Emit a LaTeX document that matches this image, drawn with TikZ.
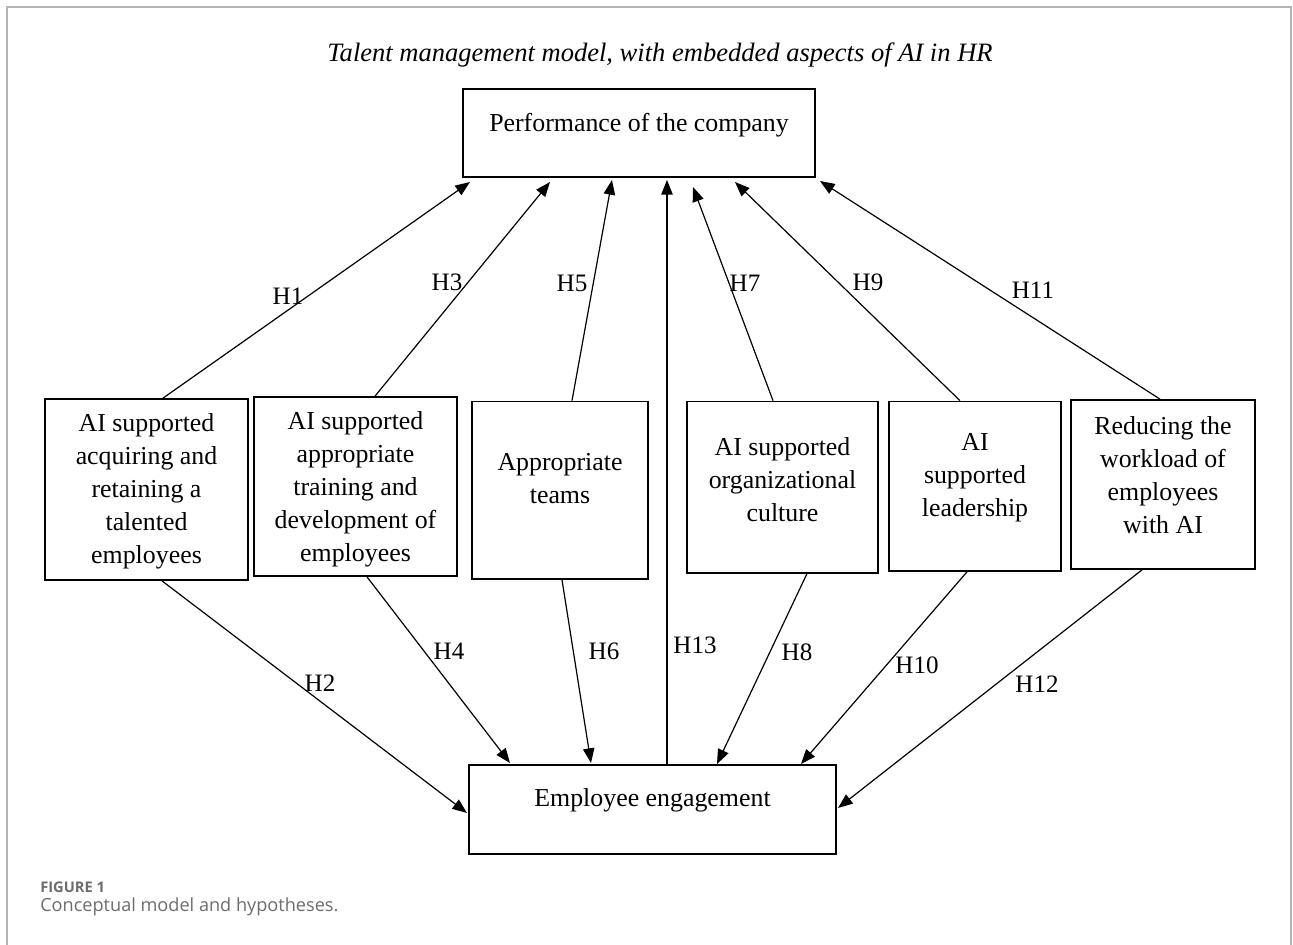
\documentclass[tikz,border=0pt]{standalone}
\usepackage{fontspec}
\setmainfont{Liberation Serif}
\newfontfamily\capfont{Open Sans}
\usetikzlibrary{arrows.meta,calc}
\definecolor{capgray}{RGB}{108,108,108}
\definecolor{framegray}{RGB}{180,180,180}
\begin{document}
\begin{tikzpicture}[x=0.75pt,y=-0.75pt,
  box/.style={draw=black,line width=1.3pt,inner sep=0pt,rectangle},
  txt/.style={align=center,font=\fontsize{19.4}{24.8}\selectfont,inner sep=0pt},
  hyp/.style={font=\fontsize{18.8}{22}\selectfont,inner sep=0pt},
  link/.style={line width=0.9pt,-{Triangle[length=11pt,width=8.5pt]}},
]
\useasboundingbox (0,0) rectangle (1293,945);
% frame
\draw[framegray,line width=1.2pt] (7,945) -- (7,7) -- (1291,7) -- (1291,945);
% title
\node[font=\fontsize{19.9}{24}\selectfont\itshape,inner sep=0pt] (title) at (660,55) {Talent management model, with embedded aspects of AI in HR};
% boxes
\node[box,minimum width=264pt,minimum height=66pt] (top) at (639,133) {};
\node[box,minimum width=152.25pt,minimum height=135.75pt] (b1) at (146.5,489.5) {};
\node[box,minimum width=152.25pt,minimum height=134.25pt] (b2) at (355.5,486.5) {};
\node[box,minimum width=132pt,minimum height=133.1pt] (b3) at (560,490.25) {};
\node[box,minimum width=143.25pt,minimum height=128.4pt] (b4) at (782.5,487.1) {};
\node[box,minimum width=129pt,minimum height=127.1pt] (b5) at (975,486.25) {};
\node[box,minimum width=138pt,minimum height=126.75pt] (b6) at (1163,484.5) {};
\node[box,minimum width=275.25pt,minimum height=66.75pt] (bot) at (652.5,809.5) {};
% texts
\node[txt] (ttop) at (639,125) {Performance of the company};
\node[txt] (t1) at (146.5,491) {AI supported\\acquiring and\\retaining a\\talented\\employees};
\node[txt] (t2) at (355.5,489) {AI supported\\appropriate\\training and\\development of\\employees};
\node[txt] (t3) at (560,479) {Appropriate\\teams};
\node[txt] (t4) at (782.5,480) {AI supported\\organizational\\culture};
\node[txt] (t5) at (975,478) {AI\\supported\\leadership};
\node[txt] (t6) at (1163,475) {Reducing the\\workload of\\employees\\with AI};
\node[txt] (tbot) at (652.5,800) {Employee engagement};
% end points
\coordinate (e1) at (470,182);
\coordinate (e3) at (550,182);
\coordinate (e5) at (612,180);
\coordinate (e7) at (693,187);
\coordinate (e9) at (735,182);
\coordinate (e11) at (820,181);
\coordinate (e2) at (467,813);
\coordinate (e4) at (510,763);
\coordinate (e6) at (591,763);
\coordinate (e8) at (717,764);
\coordinate (e10) at (801,764);
\coordinate (e12) at (838,808);
% connectors up
\draw[link] (163,0 |- b1.north) -- (e1);
\draw[link] (375,0 |- b2.north) -- (e3);
\draw[link] (572,0 |- b3.north) -- (e5);
\draw[link] (773,0 |- b4.north) -- (e7);
\draw[link] (960,0 |- b5.north) -- (e9);
\draw[link] (1160,0 |- b6.north) -- (e11);
\draw[link,shorten >=1.5pt] (667,0 |- bot.north) -- (667,0 |- top.south);
% connectors down
\draw[link] (162,0 |- b1.south) -- (e2);
\draw[link] (367,0 |- b2.south) -- (e4);
\draw[link] (562,0 |- b3.south) -- (e6);
\draw[link] (807,0 |- b4.south) -- (e8);
\draw[link] (967,0 |- b5.south) -- (e10);
\draw[link] (1142,0 |- b6.south) -- (e12);
% labels
\node[hyp] (h1) at (288,296) {H1};
\node[hyp] (h3) at (447,282) {H3};
\node[hyp] (h5) at (572,283) {H5};
\node[hyp] (h7) at (745,283) {H7};
\node[hyp] (h9) at (868,282) {H9};
\node[hyp] (h11) at (1033,290) {H11};
\node[hyp] (h2) at (320,683) {H2};
\node[hyp] (h4) at (449,651) {H4};
\node[hyp] (h6) at (604,651) {H6};
\node[hyp] (h13) at (695,645) {H13};
\node[hyp] (h8) at (797,652) {H8};
\node[hyp] (h10) at (917,665) {H10};
\node[hyp] (h12) at (1037,684) {H12};
% caption
\node[anchor=west,inner sep=0pt,text=capgray,font=\capfont\fontsize{11}{12}\selectfont\bfseries] (fig) at (40,887) {FIGURE 1};
\node[anchor=west,inner sep=0pt,text=capgray,font=\capfont\fontsize{13.6}{15}\selectfont] (cap) at (40,907) {Conceptual model and hypotheses.};
\end{tikzpicture}
\end{document}
